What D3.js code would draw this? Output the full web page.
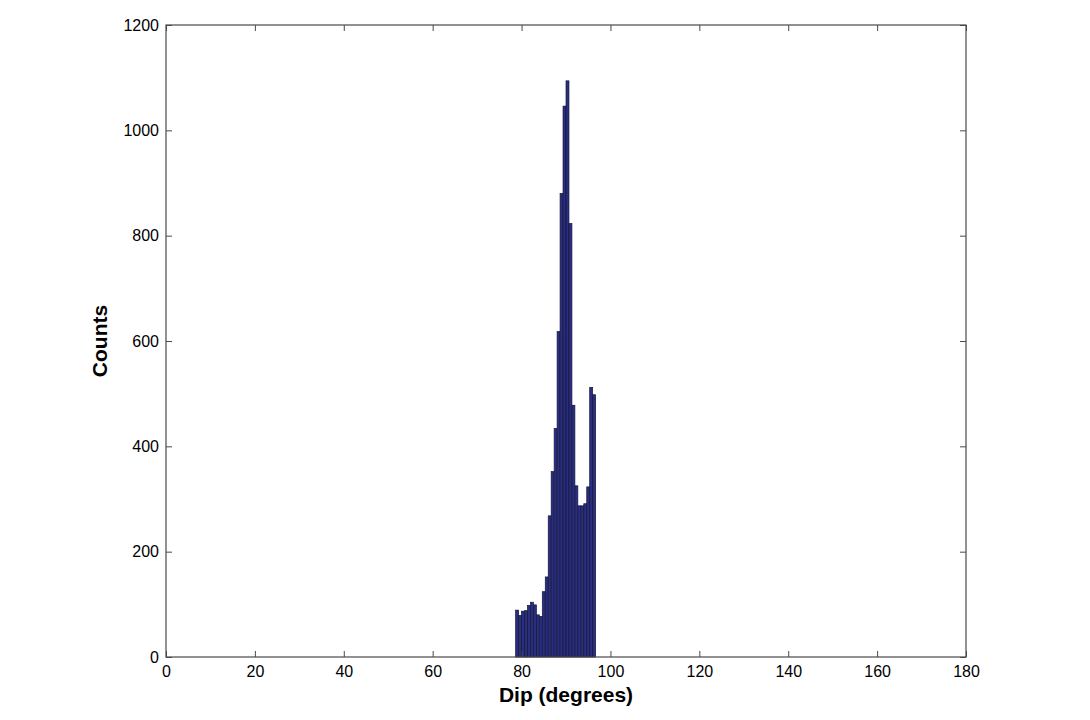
<!DOCTYPE html>
<html>
<head>
<meta charset="utf-8">
<script src="https://cdn.jsdelivr.net/npm/d3@7"></script>
<style>
  html, body { margin: 0; padding: 0; background: #fff; }
  svg { display: block; font-family: "Liberation Sans", Arial, sans-serif; }
</style>
</head>
<body>
<svg id="chart" width="1090" height="720"></svg>
<script>
// Histogram bins: width 2/3 degree, first bin starts at 78.667 deg
const binStart = 118;          // bin index (0..269 over 0-180)
const binWidth = 180 / 270;
const counts = [89, 79, 87, 88, 98, 104, 99, 80, 77, 124, 152, 268, 352, 434, 618, 880, 1046, 1094, 823, 478, 325, 287, 287, 291, 323, 512, 498];
const xTicks = [0, 20, 40, 60, 80, 100, 120, 140, 160, 180];
const yTicks = [0, 200, 400, 600, 800, 1000, 1200];
const xLabel = "Dip (degrees)";
const yLabel = "Counts";

const bins = counts.map((c, i) => ({
  x0: (binStart + i) * binWidth,
  x1: (binStart + i + 1) * binWidth,
  c
}));

const svg = d3.select("#chart");
const L = 166, R = 966, T = 25, B = 657;
const x = d3.scaleLinear().domain([0, 180]).range([L, R]);
const y = d3.scaleLinear().domain([0, 1200]).range([B, T]);

// bars
svg.append("g").selectAll("rect").data(bins).join("rect")
  .attr("x", d => x(d.x0))
  .attr("y", d => y(d.c))
  .attr("width", d => x(d.x1) - x(d.x0))
  .attr("height", d => y(0) - y(d.c))
  .attr("fill", "#2a2e7e")
  .attr("stroke", "#15163a")
  .attr("stroke-width", 0.7);

const axisColor = "#4a4a4a";
const tickLen = 6;
const fmt = d3.format("d");

function styleAxis(g) {
  g.select(".domain").remove();
  g.selectAll(".tick line").attr("stroke", axisColor).attr("stroke-width", 1);
  g.selectAll(".tick text").attr("fill", "#000").attr("font-size", 16);
}

// bottom
svg.append("g").attr("transform", `translate(0,${B})`)
  .call(d3.axisBottom(x).tickValues(xTicks).tickSize(-tickLen).tickPadding(9).tickFormat(fmt))
  .call(styleAxis);
// top (ticks only)
svg.append("g").attr("transform", `translate(0,${T})`)
  .call(d3.axisTop(x).tickValues(xTicks).tickSize(-tickLen).tickFormat(""))
  .call(styleAxis);
// left
svg.append("g").attr("transform", `translate(${L},0)`)
  .call(d3.axisLeft(y).tickValues(yTicks).tickSize(-tickLen).tickPadding(7).tickFormat(fmt))
  .call(styleAxis);
// right (ticks only)
svg.append("g").attr("transform", `translate(${R},0)`)
  .call(d3.axisRight(y).tickValues(yTicks).tickSize(-tickLen).tickFormat(""))
  .call(styleAxis);

// box
svg.append("rect")
  .attr("x", L).attr("y", T)
  .attr("width", R - L).attr("height", B - T)
  .attr("fill", "none")
  .attr("stroke", axisColor)
  .attr("stroke-width", 1.2);

// axis labels
svg.append("text")
  .attr("x", (L + R) / 2).attr("y", 702)
  .attr("text-anchor", "middle")
  .attr("font-size", 21).attr("font-weight", "bold").attr("fill", "#000")
  .text(xLabel);

svg.append("text")
  .attr("transform", `translate(107,${(T + B) / 2}) rotate(-90)`)
  .attr("text-anchor", "middle")
  .attr("font-size", 21).attr("font-weight", "bold").attr("fill", "#000")
  .text(yLabel);
</script>
</body>
</html>
